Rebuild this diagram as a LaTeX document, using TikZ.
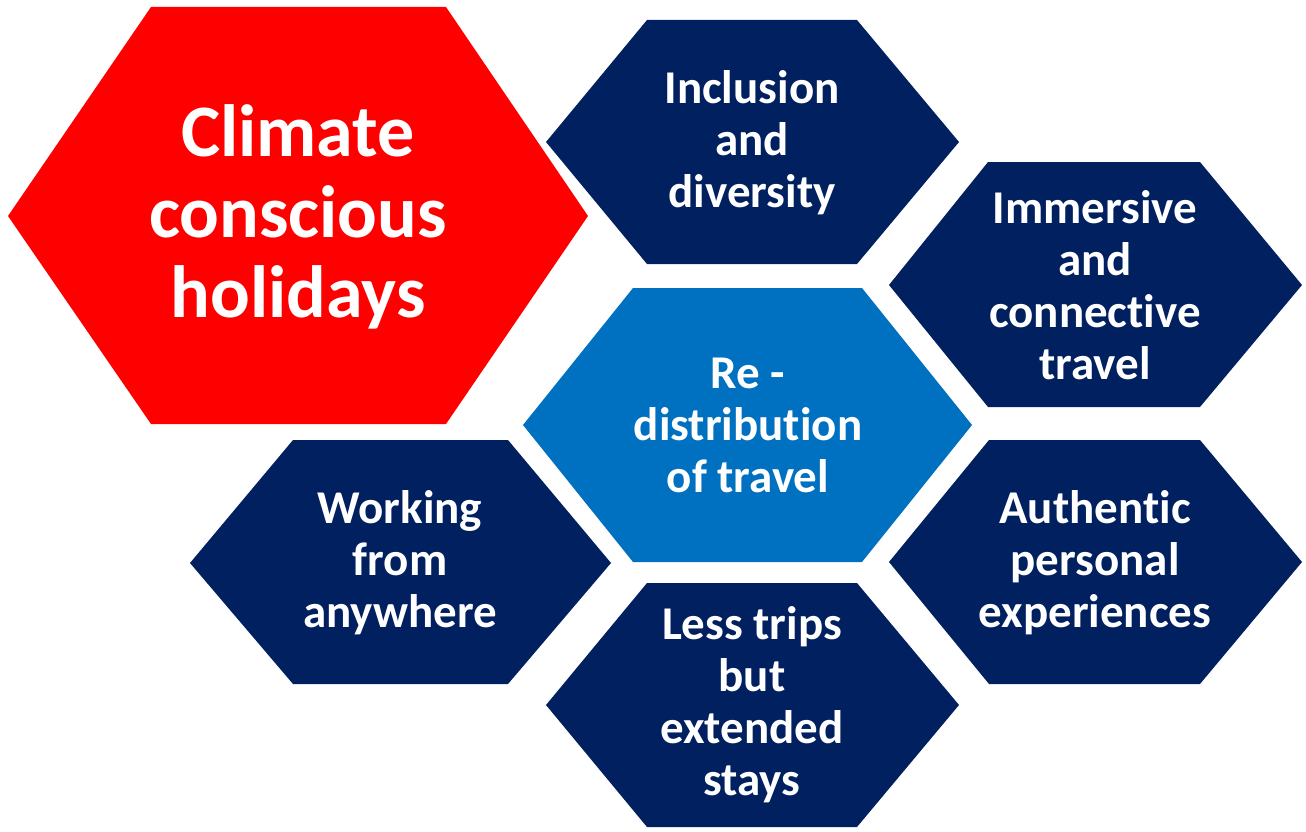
\documentclass[tikz,border=0pt]{standalone}
\usepackage{fontspec}
\setmainfont{Carlito}[Ligatures=NoCommon]
\definecolor{hexred}{HTML}{FF0000}
\definecolor{hexnavy}{HTML}{002060}
\definecolor{hexblue}{HTML}{0070C0}
\begin{document}
\begin{tikzpicture}[x=1pt,y=-1pt,
  txt/.style={text=white,font=\bfseries\fontsize{47}{52}\selectfont,align=center,inner sep=0pt},
  bigtxt/.style={text=white,font=\bfseries\fontsize{74}{80.5}\selectfont,align=center,inner sep=0pt}]
\useasboundingbox (0,0) rectangle (1306,832);
% hexagons
\fill[hexred]  (8,216) -- (151,7) -- (446,7) -- (588,216) -- (446,424) -- (151,424) -- cycle;
\fill[hexnavy] (546,142) -- (647,20) -- (857,20) -- (959,142) -- (857,264) -- (647,264) -- cycle;
\fill[hexnavy] (889,285) -- (988,162) -- (1200,162) -- (1302,285) -- (1200,407) -- (988,407) -- cycle;
\fill[hexblue] (523,425) -- (633,288) -- (862,288) -- (972,425) -- (862,562) -- (633,562) -- cycle;
\fill[hexnavy] (190,563) -- (293,440) -- (508,440) -- (611,563) -- (508,684) -- (293,684) -- cycle;
\fill[hexnavy] (889,562) -- (989,440) -- (1200,440) -- (1302,562) -- (1200,684) -- (989,684) -- cycle;
\fill[hexnavy] (546,705) -- (647,583) -- (857,583) -- (959,705) -- (857,827) -- (647,827) -- cycle;
% texts
\node[bigtxt] (climate) at (298,217) {Climate\\conscious\\holidays};
\node[txt] (inclusion) at (752,143) {Inclusion\\and\\diversity};
\node[txt] (immersive) at (1095,285) {Immersive\\and\\connective\\travel};
\node[txt] (redist) at (748,425) {Re -\\distribution\\of travel};
\node[txt] (working) at (400,563) {Working\\from\\anywhere};
\node[txt] (authentic) at (1095,563) {Authentic\\personal\\experiences};
\node[txt] (less) at (752,705) {Less trips\\but\\extended\\stays};
\end{tikzpicture}
\end{document}
